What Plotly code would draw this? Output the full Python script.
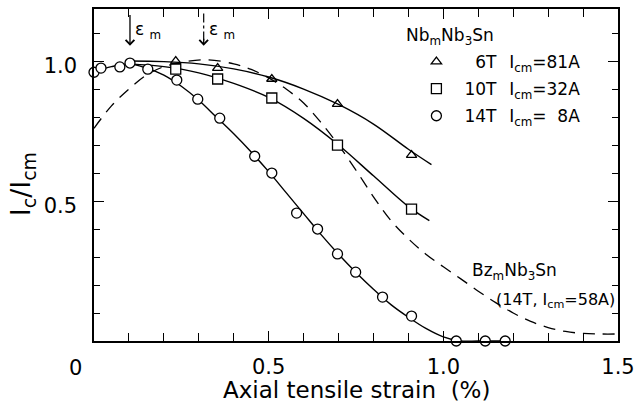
import plotly.graph_objects as go

# ---------------- data ----------------
strain_6T = [0.234, 0.354, 0.509, 0.697, 0.909]
ic_6T = [1.0, 0.975, 0.936, 0.846, 0.664]

strain_10T = [0.234, 0.354, 0.509, 0.697, 0.909]
ic_10T = [0.971, 0.936, 0.868, 0.70, 0.471]

strain_14T = [0.0, 0.02, 0.074, 0.103, 0.154, 0.237, 0.297, 0.36, 0.46, 0.509,
              0.58, 0.64, 0.697, 0.749, 0.826, 0.909, 1.037, 1.12, 1.177]
ic_14T = [0.96, 0.975, 0.979, 0.993, 0.971, 0.932, 0.864, 0.796, 0.66, 0.60,
          0.457, 0.40, 0.311, 0.246, 0.157, 0.089, 0.0, 0.0, 0.0]

fit_6T_x = [0.10, 0.2, 0.3, 0.4, 0.5, 0.6, 0.7, 0.8, 0.9, 0.966]
fit_6T_y = [1.0, 0.998, 0.99, 0.972, 0.943, 0.90, 0.845, 0.775, 0.685, 0.63]

fit_10T_x = [0.10, 0.2, 0.3, 0.4, 0.5, 0.6, 0.7, 0.8, 0.9, 0.96]
fit_10T_y = [0.99, 0.98, 0.958, 0.92, 0.87, 0.795, 0.70, 0.59, 0.48, 0.43]

fit_14T_x = [0.0, 0.05, 0.1, 0.15, 0.2, 0.25, 0.3, 0.35, 0.4, 0.45, 0.5, 0.55,
             0.6, 0.65, 0.7, 0.75, 0.8, 0.85, 0.9, 0.95, 1.0, 1.05, 1.1, 1.177]
fit_14T_y = [0.96, 0.98, 0.99, 0.975, 0.95, 0.91, 0.86, 0.80, 0.74, 0.675, 0.605, 0.53,
             0.455, 0.38, 0.31, 0.245, 0.185, 0.13, 0.085, 0.045, 0.015, 0.0, 0.0, 0.0]

bz_x = [0.0, 0.05, 0.1, 0.15, 0.2, 0.25, 0.32, 0.4, 0.45, 0.5, 0.55, 0.6, 0.65, 0.7,
        0.75, 0.8, 0.85, 0.9, 0.95, 1.0, 1.05, 1.1, 1.15, 1.2, 1.25, 1.3, 1.35, 1.4, 1.45, 1.5]
bz_y = [0.76, 0.84, 0.9, 0.95, 0.98, 0.995, 1.005, 0.99, 0.97, 0.94, 0.9, 0.85, 0.78, 0.70,
        0.61, 0.515, 0.43, 0.365, 0.31, 0.265, 0.222, 0.178, 0.137, 0.1, 0.07, 0.048,
        0.034, 0.027, 0.025, 0.025]

eps_m = [0.103, 0.314]        # strain at max Ic (arrows)

x_tickvals = [0.5, 1.0, 1.5]
x_ticktext = ["0.5", "1.0", "1.5"]
y_tickvals = [0.5, 1.0]
y_ticktext = ["0.5", "1.0"]

FONT = "DejaVu Sans, Liberation Sans, Arial, sans-serif"
BLACK = "black"
fig = go.Figure()

line_style = dict(color=BLACK, width=1.4)
fig.add_trace(go.Scatter(x=bz_x, y=bz_y, mode="lines", line_shape="spline",
                         line=dict(color=BLACK, width=1.3, dash="12px,8px"), showlegend=False))
for fx, fy in [(fit_6T_x, fit_6T_y), (fit_10T_x, fit_10T_y), (fit_14T_x, fit_14T_y)]:
    fig.add_trace(go.Scatter(x=fx, y=fy, mode="lines", line_shape="spline",
                             line=line_style, showlegend=False))

mk = dict(color="white", size=10, line=dict(color=BLACK, width=1.3))
gap = "\u2002\u2005"
fig.add_trace(go.Scatter(x=strain_6T, y=ic_6T, mode="markers", cliponaxis=False,
                         marker=dict(mk, symbol="triangle-up-open", color=BLACK, size=9),
                         name="\u20076T" + gap + "I<sub>cm</sub>=81A", legendgroup="a"))
fig.add_trace(go.Scatter(x=strain_10T, y=ic_10T, mode="markers", cliponaxis=False,
                         marker=dict(mk, symbol="square"),
                         name="10T" + gap + "I<sub>cm</sub>=32A", legendgroup="b"))
fig.add_trace(go.Scatter(x=strain_14T, y=ic_14T, mode="markers", cliponaxis=False,
                         marker=dict(mk, symbol="circle"),
                         name="14T" + gap + "I<sub>cm</sub>=\u20078A", legendgroup="c"))

# epsilon_m arrows
fig.add_annotation(x=eps_m[0], y=1.055, ax=eps_m[0], ay=1.17, xref="x", yref="y",
                   axref="x", ayref="y", showarrow=True, arrowhead=4, arrowsize=1.3,
                   arrowwidth=1.3, arrowcolor=BLACK, text="")
fig.add_trace(go.Scatter(x=[eps_m[1], eps_m[1]], y=[1.17, 1.07], mode="lines",
                         line=dict(color=BLACK, width=1.2, dash="dashdot"),
                         showlegend=False, cliponaxis=False))
fig.add_annotation(x=eps_m[1], y=1.055, ax=eps_m[1], ay=1.085, xref="x", yref="y",
                   axref="x", ayref="y", showarrow=True, arrowhead=4, arrowsize=1.3,
                   arrowwidth=1.3, arrowcolor=BLACK, text="")
for e in eps_m:
    fig.add_annotation(x=e, y=1.11, xref="x", yref="y", xanchor="left", yanchor="middle",
                       xshift=3, showarrow=False, text="ε <sub>m</sub>",
                       font=dict(family=FONT, size=17, color=BLACK))

fig.add_annotation(x=1.075, y=0.25, xref="x", yref="y", xanchor="left", yanchor="middle",
                   showarrow=False, text="Bz<sub>m</sub>Nb<sub>3</sub>Sn",
                   font=dict(family=FONT, size=17, color=BLACK))
fig.add_annotation(x=1.5, y=0.145, xref="x", yref="y", xanchor="right", yanchor="middle",
                   xshift=-1, showarrow=False, text="(14T, I<sub>cm</sub>=58A)",
                   font=dict(family=FONT, size=16, color=BLACK))

# legend heading
fig.add_annotation(x=(405 - 94) / 525, y=(341 - 36) / 332, xref="paper", yref="paper",
                   xanchor="left", yanchor="middle", showarrow=False,
                   text="Nb<sub>m</sub>Nb<sub>3</sub>Sn", font=dict(family=FONT, size=17, color=BLACK))

# axis titles and corner zero label
fig.add_annotation(x=0.5, y=-0.148, xref="paper", yref="paper", showarrow=False,
                   xanchor="center", yanchor="middle", text="Axial tensile strain  (%)",
                   font=dict(family=FONT, size=23, color=BLACK))
fig.add_annotation(x=-0.135, y=0.473, xref="paper", yref="paper", showarrow=False,
                   xanchor="center", yanchor="middle", textangle=-90,
                   text="I<sub>c</sub>/I<sub>cm</sub>",
                   font=dict(family=FONT, size=27, color=BLACK))
fig.add_annotation(x=-0.036, y=-0.081, xref="paper", yref="paper", showarrow=False,
                   xanchor="center", yanchor="middle",
                   text="0", font=dict(family=FONT, size=21, color=BLACK))

axis_common = dict(showline=True, linecolor=BLACK, linewidth=1.5, mirror="ticks",
                   ticks="inside", ticklen=10, tickcolor=BLACK, tickwidth=1.2,
                   showgrid=False, zeroline=False, automargin=False,
                   tickfont=dict(family=FONT, size=21, color=BLACK))
fig.update_xaxes(axis_common, range=[0, 1.5], tickvals=x_tickvals, ticktext=x_ticktext,
                 ticklabelstandoff=6,
                 minor=dict(ticks="inside", ticklen=8, dtick=0.1, tickcolor=BLACK,
                            tickwidth=1.2, showgrid=False))
fig.update_yaxes(axis_common, range=[0, 1.186], tickvals=y_tickvals, ticktext=y_ticktext,
                 ticklabelstandoff=11, ticklabelshift=5,
                 minor=dict(ticks="inside", ticklen=6, dtick=0.1, tickcolor=BLACK,
                            tickwidth=1.2, showgrid=False))

fig.update_layout(
    width=637, height=414, plot_bgcolor="white", paper_bgcolor="white",
    margin=dict(l=94, r=19, t=9, b=73, autoexpand=False),
    font=dict(family=FONT, color=BLACK),
    legend=dict(x=(409 - 94) / 525, y=(341 - 44) / 332, xanchor="left", yanchor="top",
                bgcolor="rgba(0,0,0,0)",
                font=dict(family=FONT, size=17, color=BLACK),
                tracegroupgap=2, itemwidth=46),
)

fig.write_html("out.html", config={"displayModeBar": False},
               post_script="document.body.style.margin='0';")
